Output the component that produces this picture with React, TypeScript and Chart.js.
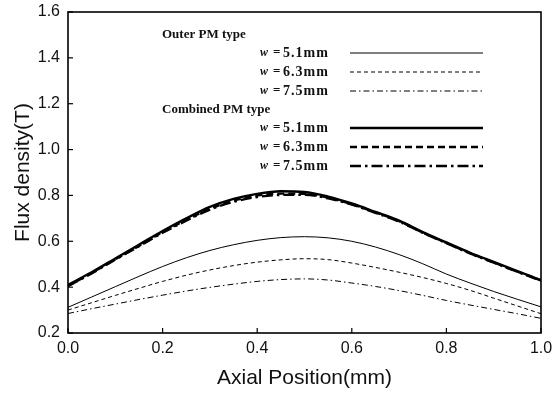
import React, { useEffect, useRef } from "react";
import { Chart, registerables } from "chart.js";

Chart.register(...registerables);

const positions = [0, 0.05, 0.1, 0.15, 0.2, 0.25, 0.3, 0.35, 0.4, 0.45, 0.5, 0.55, 0.6, 0.65, 0.7, 0.75, 0.8, 0.85, 0.9, 0.95, 1.0];

const outer51 = [0.312, 0.357, 0.402, 0.447, 0.49, 0.528, 0.56, 0.585, 0.604, 0.616, 0.62, 0.615, 0.60, 0.575, 0.542, 0.502, 0.457, 0.418, 0.381, 0.347, 0.314];
const outer63 = [0.30, 0.332, 0.364, 0.395, 0.425, 0.452, 0.475, 0.494, 0.509, 0.519, 0.524, 0.52, 0.505, 0.486, 0.465, 0.442, 0.416, 0.386, 0.352, 0.318, 0.284];
const outer75 = [0.285, 0.306, 0.326, 0.346, 0.365, 0.383, 0.399, 0.413, 0.425, 0.433, 0.436, 0.431, 0.418, 0.403, 0.385, 0.364, 0.342, 0.322, 0.303, 0.284, 0.264];
const comb51 = [0.41, 0.465, 0.525, 0.585, 0.645, 0.70, 0.75, 0.785, 0.807, 0.818, 0.815, 0.795, 0.765, 0.728, 0.69, 0.64, 0.595, 0.55, 0.51, 0.47, 0.43];
const comb63 = [0.405, 0.462, 0.522, 0.58, 0.64, 0.693, 0.742, 0.777, 0.799, 0.808, 0.807, 0.79, 0.762, 0.726, 0.688, 0.638, 0.593, 0.548, 0.508, 0.468, 0.43];
const comb75 = [0.405, 0.46, 0.52, 0.578, 0.637, 0.69, 0.738, 0.772, 0.793, 0.802, 0.803, 0.787, 0.76, 0.724, 0.686, 0.637, 0.592, 0.547, 0.507, 0.467, 0.428];

const xTicks = [0, 0.2, 0.4, 0.6, 0.8, 1.0];
const yTicks = [0.2, 0.4, 0.6, 0.8, 1.0, 1.2, 1.4, 1.6];

const groupTitles = ["Outer PM type", "Combined PM type"];
const widthLabels = ["5.1mm", "6.3mm", "7.5mm"];

const seriesDefs = [
  { label: "Outer w = 5.1mm", data: outer51, width: 1, dash: [] as number[] },
  { label: "Outer w = 6.3mm", data: outer63, width: 1, dash: [4, 3] },
  { label: "Outer w = 7.5mm", data: outer75, width: 1, dash: [6, 3, 1.5, 3] },
  { label: "Combined w = 5.1mm", data: comb51, width: 2.4, dash: [] as number[] },
  { label: "Combined w = 6.3mm", data: comb63, width: 2.4, dash: [7, 4] },
  { label: "Combined w = 7.5mm", data: comb75, width: 2.4, dash: [11, 4, 2.5, 4] },
];

const SANS = "'Liberation Sans', Arial, sans-serif";
const SERIF = "'Liberation Serif', 'Times New Roman', serif";

const frameAndLegend = {
  id: "frameAndLegend",
  afterDraw(chart: any) {
    const ctx = chart.ctx;
    const a = chart.chartArea;
    const xs = chart.scales.x;
    const ys = chart.scales.y;
    ctx.save();
    ctx.strokeStyle = "#000";
    ctx.lineWidth = 1.6;
    ctx.setLineDash([]);
    ctx.strokeRect(a.left, a.top, a.right - a.left, a.bottom - a.top);
    ctx.lineWidth = 1.2;
    xTicks.forEach((v) => {
      const px = xs.getPixelForValue(v);
      ctx.beginPath();
      ctx.moveTo(px, a.bottom);
      ctx.lineTo(px, a.bottom - 5);
      ctx.stroke();
    });
    yTicks.forEach((v) => {
      const py = ys.getPixelForValue(v);
      ctx.beginPath();
      ctx.moveTo(a.left, py);
      ctx.lineTo(a.left + 5, py);
      ctx.stroke();
    });

    // legend
    const titleX = 162;
    const wX = 260;
    const eqX = 273;
    const valX = 283;
    const lineX0 = 350;
    const lineX1 = 483;
    const rows = [
      { type: "title", text: groupTitles[0], y: 35 },
      { type: "entry", text: widthLabels[0], y: 53, s: 0 },
      { type: "entry", text: widthLabels[1], y: 72, s: 1 },
      { type: "entry", text: widthLabels[2], y: 91, s: 2 },
      { type: "title", text: groupTitles[1], y: 110 },
      { type: "entry", text: widthLabels[0], y: 128, s: 3 },
      { type: "entry", text: widthLabels[1], y: 147, s: 4 },
      { type: "entry", text: widthLabels[2], y: 166, s: 5 },
    ];
    ctx.fillStyle = "#111";
    ctx.textBaseline = "middle";
    ctx.textAlign = "left";
    rows.forEach((r: any) => {
      if (r.type === "title") {
        ctx.font = "bold 13px " + SERIF;
        ctx.fillText(r.text, titleX, r.y);
      } else {
        ctx.font = "italic bold 12px " + SERIF;
        ctx.fillText("w", wX, r.y);
        ctx.font = "bold 13px " + SERIF;
        ctx.fillText("=", eqX, r.y);
        try {
          (ctx as any).letterSpacing = "1px";
        } catch (e) {}
        ctx.font = "bold 14px " + SERIF;
        ctx.fillText(r.text, valX, r.y);
        try {
          (ctx as any).letterSpacing = "0px";
        } catch (e) {}
        const d = seriesDefs[r.s];
        ctx.lineWidth = d.width;
        ctx.setLineDash(d.dash);
        ctx.strokeStyle = "#000";
        ctx.beginPath();
        ctx.moveTo(lineX0, r.y);
        ctx.lineTo(lineX1, r.y);
        ctx.stroke();
        ctx.setLineDash([]);
      }
    });
    ctx.restore();
  },
};

export default function App() {
  const ref = useRef<HTMLCanvasElement>(null);
  useEffect(() => {
    document.body.style.margin = "0";
    const canvas = ref.current;
    if (!canvas) return;
    const chart = new Chart(canvas, {
      type: "line",
      data: {
        datasets: seriesDefs.map((d) => ({
          label: d.label,
          data: positions.map((x, i) => ({ x, y: d.data[i] })),
          borderColor: "#000",
          backgroundColor: "#000",
          borderWidth: d.width,
          borderDash: d.dash,
          pointRadius: 0,
          fill: false,
          cubicInterpolationMode: "monotone" as const,
        })),
      },
      options: {
        responsive: false,
        animation: false,
        devicePixelRatio: 1,
        layout: { padding: { left: 0, top: 12, right: 13, bottom: 0 } },
        plugins: { legend: { display: false }, tooltip: { enabled: false } },
        scales: {
          x: {
            type: "linear",
            min: 0,
            max: 1,
            afterFit: (s: any) => {
              s.height = 62;
              s.paddingLeft = 0;
              s.paddingRight = 0;
            },
            afterBuildTicks: (s: any) => {
              s.ticks = xTicks.map((v) => ({ value: v }));
            },
            grid: { display: false, drawTicks: false },
            border: { display: false },
            ticks: {
              padding: 6,
              color: "#111",
              font: { family: SANS, size: 16 },
              callback: (v: any) => Number(v).toFixed(1),
              maxRotation: 0,
            },
            title: {
              display: true,
              text: "Axial Position(mm)",
              color: "#111",
              font: { family: SANS, size: 21 },
              padding: { top: 0, bottom: 4 },
            },
          },
          y: {
            type: "linear",
            min: 0.2,
            max: 1.6,
            afterFit: (s: any) => {
              s.width = 68;
              s.paddingTop = 0;
              s.paddingBottom = 0;
            },
            afterBuildTicks: (s: any) => {
              s.ticks = yTicks.map((v) => ({ value: v }));
            },
            grid: { display: false, drawTicks: false },
            border: { display: false },
            ticks: {
              padding: 8,
              color: "#111",
              font: { family: SANS, size: 16 },
              callback: (v: any) => Number(v).toFixed(1),
            },
            title: {
              display: true,
              text: "Flux density(T)",
              color: "#111",
              font: { family: SANS, size: 21 },
              padding: { top: 11, bottom: 0 },
            },
          },
        },
      },
      plugins: [frameAndLegend],
    });
    return () => chart.destroy();
  }, []);
  return (
    <div style={{ position: "absolute", left: 0, top: 0, width: 554, height: 395, background: "#fff" }}>
      <canvas ref={ref} width={554} height={395} style={{ width: 554, height: 395 }} />
    </div>
  );
}
